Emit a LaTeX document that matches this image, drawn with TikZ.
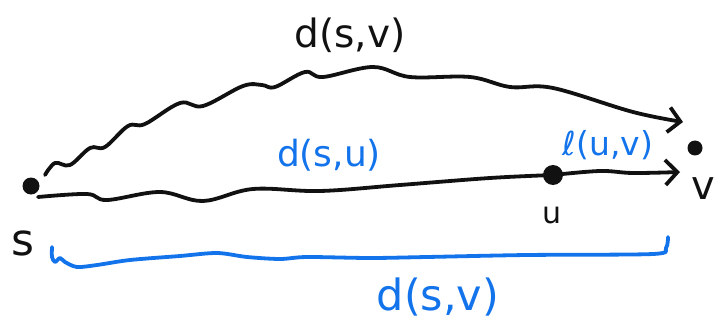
\documentclass[tikz,border=0pt]{standalone}
\usepackage{fontspec}
\setmainfont{DejaVu Sans}
\usetikzlibrary{arrows.meta}
\definecolor{ink}{HTML}{111111}
\definecolor{pen}{HTML}{1273EB}
\tikzset{dot/.style={circle,fill=ink,inner sep=0pt,minimum size=#1},
  stroke/.style={line width=3.8pt,draw=ink,line cap=round,line join=round},
  tip/.style={-{Straight Barb[length=12pt,width=25pt,line width=3.8pt]}},
  lbl/.style={inner sep=0pt,text=#1}}

\begin{document}
\begin{tikzpicture}[x=1pt,y=-1pt]
\useasboundingbox (0,0) rectangle (716,329);
\node[dot=17pt] (s) at (31,186) {};
\node[dot=20pt] (u) at (553,175) {};
\node[dot=15pt] (v) at (695,148) {};
\coordinate (s0) at (45,175);
\coordinate (s1) at (38,197);
\coordinate (v0) at (683,122);
\coordinate (v1) at (680,172);
\coordinate (b0) at (52,247);
\coordinate (b1) at (668,237);
\draw[stroke,tip] plot[smooth,tension=.6] coordinates {(s0) (55,163) (70,165) (90,148)
  (105,147) (128,126) (145,124) (180,103) (203,106) (243,86) (262,85) (275,87) (305,72)
  (323,77) (373,67) (410,77) (470,77) (510,87) (553,88) (633,112) (v0)};
\draw[stroke] plot[smooth,tension=.6] coordinates {(s1) (87,194) (107,200) (160,192)
  (203,201) (253,189) (320,191) (400,185) (490,178) (u)};
\draw[stroke,tip] plot[smooth,tension=.6] coordinates {(u) (600,171) (633,173) (v1)};
\draw[stroke,draw=pen] plot[smooth,tension=.5] coordinates {(b0) (52,257) (55,262)
  (60,258) (65,262) (77,267) (97,265) (130,260) (180,256) (217,253) (247,257) (280,259)
  (307,257) (370,258) (427,257) (527,255) (653,254) (666,248) (b1)};
\node[lbl=ink,font=\fontsize{39}{39}\selectfont] (dsv) at (350,35) {d(s,v)};
\node[lbl=pen,font=\fontsize{36}{36}\selectfont] (dsu) at (329,155) {d(s,u)};
\node[lbl=pen,font=\fontsize{33}{33}\selectfont] (luv) at (608,145) {ℓ(u,v)};
\node[lbl=pen,font=\fontsize{43}{43}\selectfont] (dsv2) at (438,297) {d(s,v)};
\node[lbl=ink,font=\fontsize{44}{44}\selectfont] (ls) at (23,243) {s};
\node[lbl=ink,font=\fontsize{30}{30}\selectfont] (lu) at (552,215) {u};
\node[lbl=ink,font=\fontsize{40}{40}\selectfont] (lv) at (703,189) {v};
\end{tikzpicture}
\end{document}
